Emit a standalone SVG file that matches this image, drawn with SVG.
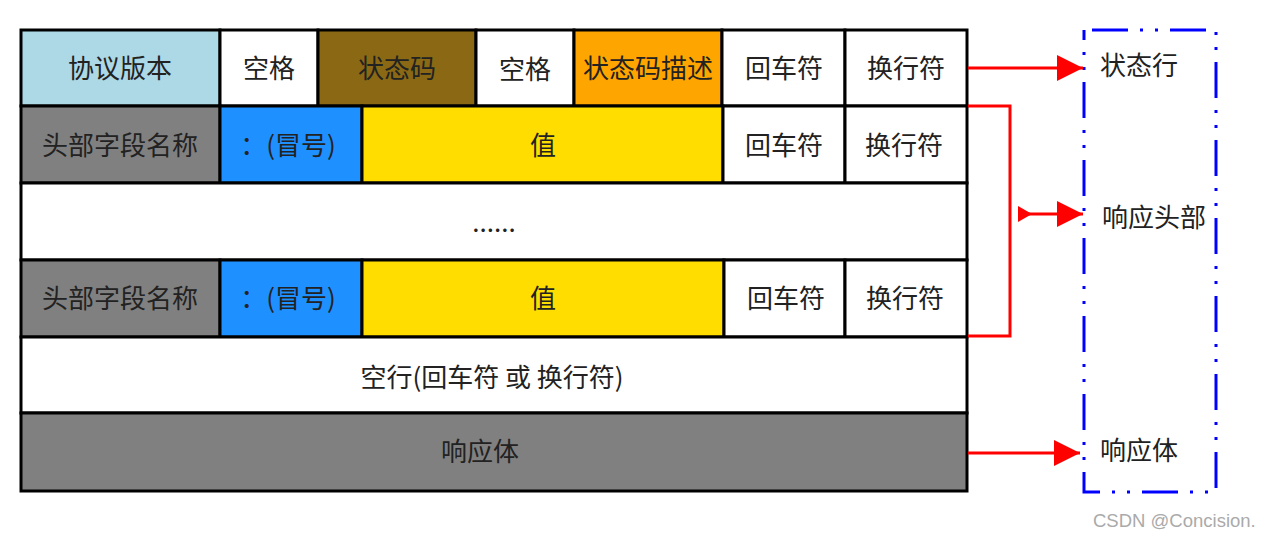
<svg xmlns="http://www.w3.org/2000/svg" width="1271" height="538" viewBox="0 0 1271 538">
<style>
.c{stroke:#000;stroke-width:3}
.t{font-family:"Noto Sans CJK SC","Noto Sans",sans-serif;font-size:26px;fill:#222;text-anchor:middle;dominant-baseline:central}
.r{stroke:#f00;stroke-width:3;fill:none}
</style>
<defs>
<marker id="ah" markerUnits="userSpaceOnUse" markerWidth="26" markerHeight="26" refX="26" refY="13" orient="auto">
<path d="M0,0 L26,13 L0,26 Z" fill="#f00"/>
</marker>
<marker id="at" markerUnits="userSpaceOnUse" markerWidth="14" markerHeight="16" refX="0" refY="8" orient="auto">
<path d="M0,0 L14,8 L0,16 Z" fill="#f00"/>
</marker>
</defs>
<rect width="1271" height="538" fill="#fff"/>
<g id="row1">
<g id="n-protocol"><rect class="c" x="21" y="30" width="199" height="76" fill="#ADD8E6"/><text class="t" x="120" y="66">协议版本</text></g>
<g id="n-space1"><rect class="c" x="220" y="30" width="98" height="76" fill="#fff"/><text class="t" x="269" y="66">空格</text></g>
<g id="n-status"><rect class="c" x="318" y="30" width="158" height="76" fill="#8B6914"/><text class="t" x="397" y="66">状态码</text></g>
<g id="n-space2"><rect class="c" x="476" y="30" width="98" height="76" fill="#fff"/><text class="t" x="525" y="67">空格</text></g>
<g id="n-statusdesc"><rect class="c" x="574" y="30" width="148" height="76" fill="#FFA500"/><text class="t" x="648" y="66">状态码描述</text></g>
<g id="n-cr1"><rect class="c" x="722" y="30" width="123" height="76" fill="#fff"/><text class="t" x="784" y="66">回车符</text></g>
<g id="n-lf1"><rect class="c" x="845" y="30" width="122" height="76" fill="#fff"/><text class="t" x="906" y="66">换行符</text></g>
</g>
<g id="row2">
<g id="n-hname1"><rect class="c" x="21" y="106" width="199" height="77" fill="#808080"/><text class="t" x="120" y="143">头部字段名称</text></g>
<g id="n-colon1"><rect class="c" x="220" y="106" width="142" height="77" fill="#1E90FF"/><text class="t" x="288" y="143">：(冒号)</text></g>
<g id="n-value1"><rect class="c" x="362" y="106" width="361" height="77" fill="#FFDD00"/><text class="t" x="543" y="143">值</text></g>
<g id="n-cr2"><rect class="c" x="723" y="106" width="122" height="77" fill="#fff"/><text class="t" x="784" y="143">回车符</text></g>
<g id="n-lf2"><rect class="c" x="845" y="106" width="122" height="77" fill="#fff"/><text class="t" x="904" y="143">换行符</text></g>
</g>
<g id="n-ellipsis"><rect class="c" x="21" y="183" width="946" height="77" fill="#fff"/><text class="t" x="494" y="220">......</text></g>
<g id="row4">
<g id="n-hname2"><rect class="c" x="21" y="260" width="199" height="77" fill="#808080"/><text class="t" x="120" y="296">头部字段名称</text></g>
<g id="n-colon2"><rect class="c" x="220" y="260" width="142" height="77" fill="#1E90FF"/><text class="t" x="288" y="296">：(冒号)</text></g>
<g id="n-value2"><rect class="c" x="362" y="260" width="362" height="77" fill="#FFDD00"/><text class="t" x="543" y="296">值</text></g>
<g id="n-cr3"><rect class="c" x="724" y="260" width="121" height="77" fill="#fff"/><text class="t" x="786" y="296">回车符</text></g>
<g id="n-lf3"><rect class="c" x="845" y="260" width="122" height="77" fill="#fff"/><text class="t" x="905" y="296">换行符</text></g>
</g>
<g id="n-blank"><rect class="c" x="21" y="337" width="946" height="76" fill="#fff"/><text class="t" x="492" y="375">空行(回车符 或 换行符)</text></g>
<g id="n-body"><rect class="c" x="21" y="413" width="946" height="78" fill="#808080"/><text class="t" x="480" y="449">响应体</text></g>
<g id="n-legend">
<rect x="1084" y="30" width="132" height="462" fill="none" stroke="#00f" stroke-width="3" stroke-dasharray="36 12 3 12 3 12" stroke-dashoffset="-8"/>
<text class="t" x="1139" y="63">状态行</text>
<text class="t" x="1154" y="215">响应头部</text>
<text class="t" x="1139" y="448">响应体</text>
</g>
<g id="connectors">
<line class="r" x1="968" y1="68" x2="1083" y2="68" marker-end="url(#ah)"/>
<polyline class="r" points="968,106 1010,106 1010,336 968,336"/>
<line class="r" x1="1018" y1="214" x2="1083" y2="214" marker-start="url(#at)" marker-end="url(#ah)"/>
<line class="r" x1="968" y1="453" x2="1080" y2="453" marker-end="url(#ah)"/>
</g>
<text x="1093" y="527" font-family="Liberation Sans, Arial, sans-serif" font-size="18.5" fill="#aaa">CSDN @Concision.</text>
</svg>
